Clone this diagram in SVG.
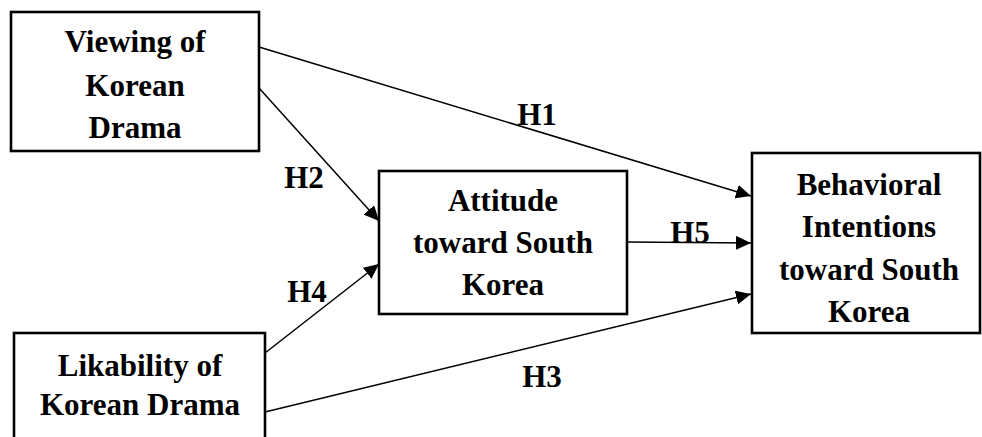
<svg xmlns="http://www.w3.org/2000/svg" width="982" height="437" viewBox="0 0 982 437">
<style>
.box{fill:#fff;stroke:#000;stroke-width:2.6}
.t{font-family:"Liberation Serif","Times New Roman",serif;font-weight:bold;font-size:31px;fill:#000;text-anchor:middle}
.c{stroke:#000;stroke-width:1.5;fill:none;marker-end:url(#ah)}
</style>
<defs>
<marker id="ah" markerUnits="userSpaceOnUse" markerWidth="16" markerHeight="14" refX="15" refY="7" orient="auto">
<path d="M0,0 L15,7 L0,14 z" fill="#000"/>
</marker>
</defs>
<rect width="982" height="437" fill="#fff"/>
<g id="connectors">
<line class="c" x1="259" y1="47" x2="751" y2="196"/>
<line class="c" x1="259" y1="88" x2="379" y2="221"/>
<line class="c" x1="265" y1="353" x2="379" y2="264"/>
<line class="c" x1="627" y1="242" x2="751" y2="243"/>
<line class="c" x1="265" y1="412" x2="751" y2="294"/>
<text class="t" x="537" y="125">H1</text>
<text class="t" x="304" y="188">H2</text>
<text class="t" x="307" y="302">H4</text>
<text class="t" x="690" y="243">H5</text>
<text class="t" x="542" y="387">H3</text>
</g>
<g id="viewing">
<rect class="box" x="11" y="12" width="248" height="139"/>
<text class="t" x="135" y="52">Viewing of</text>
<text class="t" x="135" y="96">Korean</text>
<text class="t" x="135" y="138">Drama</text>
</g>
<g id="attitude">
<rect class="box" x="379" y="171" width="248" height="143"/>
<text class="t" x="503" y="211">Attitude</text>
<text class="t" x="503" y="253">toward South</text>
<text class="t" x="503" y="295">Korea</text>
</g>
<g id="likability">
<rect class="box" x="14" y="333" width="251" height="120"/>
<text class="t" x="140" y="376">Likability of</text>
<text class="t" x="140" y="415">Korean Drama</text>
</g>
<g id="behavioral">
<rect class="box" x="752" y="153" width="228" height="180"/>
<text class="t" x="869" y="195">Behavioral</text>
<text class="t" x="869" y="237">Intentions</text>
<text class="t" x="869" y="280">toward South</text>
<text class="t" x="869" y="322">Korea</text>
</g>
</svg>
